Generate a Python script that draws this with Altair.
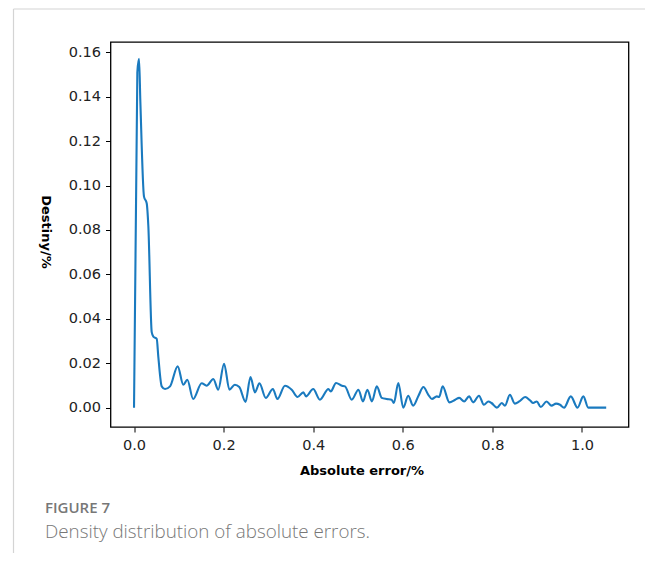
import altair as alt
import pandas as pd

# Density curve
err_x = [0.000, 0.0074, 0.0112, 0.0141, 0.0223, 0.0283, 0.0319, 0.0395, 0.0431, 0.0507,
         0.0542, 0.0618, 0.0692, 0.0804, 0.0975, 0.110, 0.119, 0.132, 0.151, 0.162,
         0.177, 0.188, 0.201, 0.213, 0.225, 0.235, 0.249, 0.260, 0.270, 0.280,
         0.294, 0.310, 0.320, 0.337, 0.352, 0.365, 0.378, 0.384, 0.400, 0.415,
         0.434, 0.439, 0.451, 0.464, 0.471, 0.486, 0.501, 0.511, 0.521, 0.531,
         0.542, 0.553, 0.564, 0.575, 0.580, 0.590, 0.601, 0.612, 0.623, 0.635,
         0.646, 0.657, 0.665, 0.676, 0.681, 0.689, 0.704, 0.717, 0.726, 0.737,
         0.748, 0.757, 0.770, 0.781, 0.791, 0.798, 0.810, 0.821, 0.828, 0.839,
         0.850, 0.860, 0.873, 0.884, 0.891, 0.899, 0.908, 0.921, 0.932, 0.942,
         0.951, 0.960, 0.975, 0.990, 1.003, 1.014, 1.024, 1.054]
density = [0.000, 0.151, 0.157, 0.138, 0.095, 0.092, 0.082, 0.034, 0.032, 0.031,
           0.023, 0.0096, 0.0084, 0.0096, 0.0186, 0.0103, 0.0126, 0.0039, 0.011, 0.0099,
           0.0129, 0.0081, 0.0198, 0.0081, 0.0103, 0.0093, 0.0026, 0.0138, 0.0069, 0.011,
           0.0044, 0.0084, 0.0039, 0.0099, 0.0081, 0.0048, 0.0069, 0.0051, 0.0084, 0.0036,
           0.0084, 0.0073, 0.0111, 0.0099, 0.0096, 0.0036, 0.0081, 0.0028, 0.0081, 0.0028,
           0.0096, 0.0044, 0.0039, 0.0036, 0.0021, 0.0111, 0.0000, 0.0054, 0.0009, 0.0054,
           0.0093, 0.0058, 0.0039, 0.0051, 0.0048, 0.0096, 0.0024, 0.0036, 0.0044, 0.0028,
           0.0051, 0.0024, 0.0054, 0.0013, 0.0028, 0.0021, 0.0000, 0.0021, 0.0009, 0.0058,
           0.0018, 0.0028, 0.0048, 0.0033, 0.0021, 0.0028, 0.0003, 0.0028, 0.0009, 0.0018,
           0.0013, 0.0000, 0.0051, 0.0000, 0.0051, 0.0000, 0.0000, 0.0000]

x_ticks = [0.0, 0.2, 0.4, 0.6, 0.8, 1.0]
y_ticks = [0.00, 0.02, 0.04, 0.06, 0.08, 0.10, 0.12, 0.14, 0.16]
x_title = "Absolute error/%"
y_title = "Destiny/%"
caption_label = "FIGURE 7"
caption_text = "Density distribution of absolute errors."

df = pd.DataFrame({"x": err_x, "y": density})
one = pd.DataFrame({"a": [0]})

W, H = 518, 385

line = alt.Chart(df).mark_line(
    color="#1a7abf", strokeWidth=2.1, interpolate="monotone"
).encode(
    x=alt.X("x:Q", scale=alt.Scale(domain=[-0.0525, 1.1038], nice=False, zero=False),
            axis=alt.Axis(values=x_ticks, format=".1f", domain=False, grid=False,
                          tickSize=5, tickColor="#000", tickWidth=1,
                          labelPadding=6, labelFontSize=14.5, labelFont="DejaVu Sans",
                          labelColor="#222",
                          title=x_title, titleFont="DejaVu Sans", titleFontSize=13,
                          titleFontWeight="bold", titleColor="#000",
                          titleX=251, titleY=43, titleAlign="center",
                          titleBaseline="middle")),
    y=alt.Y("y:Q", scale=alt.Scale(domain=[-0.0087, 0.1646], nice=False, zero=False),
            axis=alt.Axis(values=y_ticks, format=".2f", domain=False, grid=False,
                          tickSize=5, tickColor="#000", tickWidth=1,
                          labelPadding=5, labelFontSize=14.5, labelFont="DejaVu Sans",
                          labelColor="#222",
                          title=y_title, titleFont="DejaVu Sans", titleFontSize=13,
                          titleFontWeight="bold", titleColor="#000",
                          titleAngle=90, titleX=-65.5, titleY=189.5,
                          titleAlign="center", titleBaseline="middle")),
)

top_rule = alt.Chart(one).mark_rule(color="#d4d4d4", strokeWidth=1.2).encode(
    x=alt.value(-97), x2=alt.value(560), y=alt.value(-33)
)
left_rule = alt.Chart(one).mark_rule(color="#d4d4d4", strokeWidth=1.2).encode(
    x=alt.value(-97), y=alt.value(-33), y2=alt.value(530)
)

cap1 = alt.Chart(one).mark_text(
    text=caption_label, font="Open Sans", fontSize=15, fontWeight=600,
    color="#777", align="left", baseline="alphabetic"
).encode(x=alt.value(-65.5), y=alt.value(470.5))

cap2 = alt.Chart(one).mark_text(
    text=caption_text, font="Open Sans", fontSize=18.8, fontWeight=300,
    color="#777", align="left", baseline="alphabetic"
).encode(x=alt.value(-65.5), y=alt.value(496))

chart = alt.layer(top_rule, left_rule, line, cap1, cap2).properties(
    width=W, height=H,
    autosize=alt.AutoSizeParams(type="none"),
    padding={"left": 102.5, "top": 34, "right": 16, "bottom": 126},
).configure_view(stroke="#000", strokeWidth=1.3)

chart.save("out.html", embed_options={"renderer": "svg", "actions": False})
